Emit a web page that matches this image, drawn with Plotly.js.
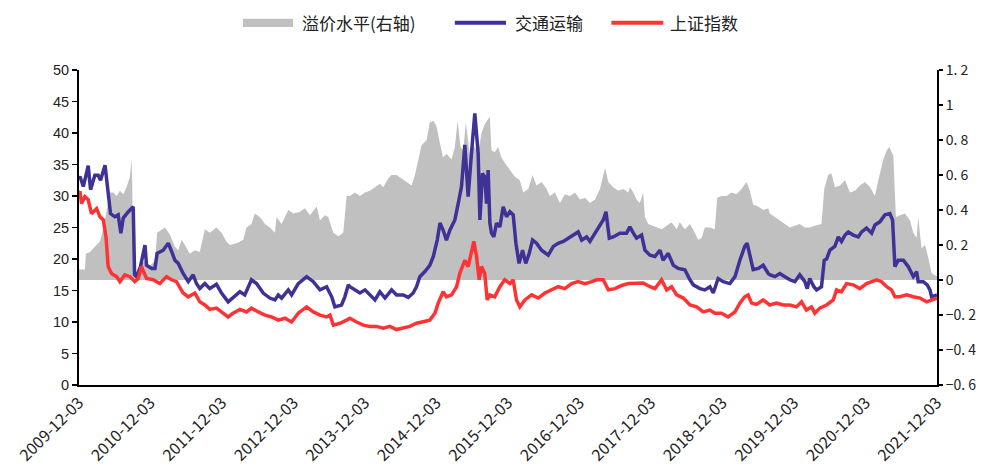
<!DOCTYPE html>
<html>
<head>
<meta charset="utf-8">
<script src="https://cdn.plot.ly/plotly-3.0.1.min.js"></script>
<style>html,body{margin:0;padding:0;background:#fff;}#chart{width:992px;height:474px;}</style>
</head>
<body>
<div id="chart"></div>
<script>
// Dates are given as decimal years (2009.921 = 2009-12-03)
const seriesNames = ['溢价水平(右轴)', '交通运输', '上证指数'];
const seriesColors = ['#C0C0C0', '#3F3296', '#FF3333'];

const premT = [2009.921,2010.005,2010.019,2010.075,2010.145,2010.215,2010.261,2010.308,2010.354,2010.401,2010.448,2010.494,2010.541,2010.588,2010.634,2010.657,2010.667,2010.681,2010.751,2010.774,2010.844,2010.914,2010.984,2011.016,2011.077,2011.124,2011.194,2011.264,2011.310,2011.357,2011.403,2011.473,2011.543,2011.613,2011.683,
 2011.753,2011.846,2011.916,2011.986,2012.033,2012.126,2012.219,2012.266,2012.336,2012.382,2012.452,2012.522,2012.592,2012.662,2012.685,2012.755,2012.849,2012.919,2013.012,2013.082,2013.152,2013.245,2013.291,2013.361,2013.408,2013.478,2013.548,2013.618,2013.665,
 2013.711,2013.781,2013.851,2013.921,2013.991,2014.061,2014.131,2014.177,2014.247,2014.294,2014.364,2014.434,2014.504,2014.574,2014.620,2014.667,2014.714,2014.784,2014.830,2014.877,2014.923,2014.970,2015.016,2015.063,2015.133,2015.180,2015.217,2015.259,2015.296,2015.333,2015.389,2015.445,2015.506,2015.552,2015.599,2015.646,
 2015.669,2015.692,2015.739,2015.786,2015.832,2015.879,2015.949,2016.019,2016.089,2016.135,2016.205,2016.266,2016.322,2016.392,2016.462,2016.508,2016.578,2016.648,2016.718,2016.788,2016.858,2016.928,2016.998,2017.068,2017.138,2017.207,2017.277,2017.324,2017.394,2017.464,2017.534,2017.604,
 2017.627,2017.674,2017.720,2017.767,2017.813,2017.837,2017.883,2017.953,2018.023,2018.070,2018.140,2018.210,2018.280,2018.326,2018.396,2018.466,2018.536,2018.583,2018.629,2018.676,2018.746,2018.816,2018.849,2018.909,2018.979,2019.049,2019.119,2019.189,2019.259,2019.305,2019.352,2019.422,2019.492,2019.562,
 2019.585,2019.655,2019.725,2019.795,2019.865,2019.935,2020.005,2020.075,2020.144,2020.214,2020.308,2020.345,2020.401,2020.447,2020.494,2020.564,2020.634,2020.704,2020.774,2020.844,2020.914,2020.984,2021.054,2021.100,2021.170,2021.217,2021.254,2021.310,2021.347,2021.403,2021.473,2021.543,2021.590,2021.636,2021.660,2021.706,2021.753,2021.800,2021.846,2021.921];
const premV = [0.06,0.06,0.15,0.16,0.19,0.22,0.29,0.39,0.50,0.50,0.48,0.51,0.49,0.53,0.59,0.69,0.55,0.04,0.04,0.08,0.11,0.08,0.11,0.27,0.29,0.30,0.26,0.19,0.17,0.23,0.20,0.15,0.17,0.16,0.29,
 0.27,0.30,0.27,0.22,0.20,0.21,0.23,0.30,0.32,0.38,0.36,0.32,0.30,0.27,0.36,0.32,0.40,0.38,0.39,0.41,0.37,0.42,0.34,0.37,0.36,0.27,0.25,0.27,0.48,
 0.48,0.50,0.48,0.50,0.51,0.53,0.55,0.53,0.58,0.60,0.60,0.58,0.56,0.54,0.60,0.69,0.77,0.80,0.90,0.91,0.88,0.78,0.70,0.72,0.69,0.76,0.91,0.76,0.74,0.90,0.72,0.77,0.72,0.84,0.89,0.92,
 0.93,0.74,0.73,0.76,0.70,0.67,0.63,0.59,0.57,0.50,0.52,0.60,0.54,0.56,0.52,0.48,0.50,0.44,0.49,0.48,0.50,0.46,0.47,0.44,0.46,0.52,0.64,0.56,0.53,0.51,0.52,0.50,
 0.53,0.50,0.46,0.44,0.50,0.36,0.32,0.31,0.30,0.29,0.31,0.33,0.29,0.33,0.29,0.32,0.27,0.23,0.24,0.30,0.30,0.29,0.47,0.48,0.48,0.50,0.49,0.52,0.56,0.51,0.43,0.42,0.40,0.41,
 0.38,0.36,0.34,0.32,0.30,0.31,0.32,0.30,0.30,0.31,0.32,0.52,0.60,0.61,0.53,0.54,0.57,0.50,0.51,0.54,0.56,0.53,0.48,0.57,0.69,0.74,0.76,0.71,0.36,0.37,0.38,0.34,0.27,0.24,0.36,0.18,0.20,0.13,0.04,0.02];

const transT = [2009.921,2009.935,2009.981,2010.051,2010.084,2010.145,2010.191,2010.224,2010.285,2010.331,2010.364,2010.424,2010.471,2010.508,2010.541,2010.611,2010.681,2010.699,2010.727,2010.783,2010.844,2010.867,2010.937,2010.984,2011.016,2011.100,2011.170,2011.217,2011.264,2011.310,2011.380,2011.450,2011.520,2011.567,2011.613,2011.683,
 2011.753,2011.846,2011.916,2012.009,2012.079,2012.173,2012.243,2012.336,2012.406,2012.499,2012.592,2012.662,2012.709,2012.755,2012.849,2012.895,2012.988,2013.105,2013.198,2013.291,2013.385,2013.455,2013.501,2013.594,2013.641,2013.688,
 2013.711,2013.781,2013.851,2013.921,2013.991,2014.061,2014.131,2014.201,2014.294,2014.364,2014.457,2014.527,2014.597,2014.643,2014.690,2014.760,2014.830,2014.877,2014.932,2014.970,2015.016,2015.063,2015.110,2015.180,2015.226,2015.273,2015.319,2015.366,2015.413,2015.459,2015.506,2015.529,2015.566,2015.599,2015.622,2015.646,
 2015.669,2015.692,2015.725,2015.762,2015.809,2015.855,2015.902,2015.949,2015.995,2016.033,2016.079,2016.126,2016.172,2016.219,2016.266,2016.322,2016.392,2016.485,2016.555,2016.625,2016.695,2016.765,2016.835,2016.904,2016.951,2017.021,2017.068,2017.138,2017.207,2017.254,2017.291,2017.338,2017.394,2017.487,2017.580,
 2017.627,2017.674,2017.720,2017.790,2017.837,2017.907,2017.977,2018.047,2018.093,2018.163,2018.233,2018.303,2018.396,2018.466,2018.513,2018.606,2018.676,2018.746,2018.793,2018.862,2018.932,2019.026,2019.096,2019.165,2019.235,2019.268,2019.305,2019.352,2019.422,2019.492,2019.562,
 2019.585,2019.655,2019.725,2019.795,2019.865,2019.935,2020.005,2020.075,2020.107,2020.144,2020.200,2020.238,2020.308,2020.345,2020.378,2020.424,2020.494,2020.541,2020.587,2020.634,2020.681,2020.751,2020.820,2020.867,2020.937,2021.007,2021.054,2021.123,2021.193,2021.263,2021.301,2021.333,2021.380,2021.450,2021.520,2021.590,2021.636,2021.660,2021.730,2021.786,2021.823,2021.846,2021.921];
const transV = [32.8,33.1,31.5,34.8,31.0,33.3,33.3,32.5,34.9,30.4,27.2,26.7,27.0,24.1,26.5,27.5,28.3,17.5,17.2,18.8,22.2,19.0,18.5,18.5,20.9,21.4,22.5,21.2,19.8,19.3,17.7,16.4,17.5,16.1,15.3,16.1,
 15.3,16.0,14.6,13.2,13.9,14.8,14.3,16.7,16.1,14.6,13.8,13.5,14.3,13.8,15.1,14.3,16.1,17.2,16.4,15.1,15.6,14.0,12.4,12.7,14.0,15.9,
 15.6,15.1,14.6,15.1,14.3,13.5,14.8,13.8,15.1,14.3,14.3,13.9,14.6,15.6,17.2,18.0,19.0,20.4,23.0,25.7,24.6,23.0,24.6,26.2,28.8,31.5,38.1,29.9,36.8,43.1,36.8,26.2,33.6,33.0,28.8,34.1,
 25.7,24.1,23.5,25.7,25.1,28.3,26.7,27.5,27.0,22.5,19.3,21.4,19.3,20.9,23.0,22.5,21.4,20.6,22.0,22.5,22.8,23.3,23.8,24.3,23.0,23.5,22.8,24.1,25.1,26.2,27.5,23.3,23.5,24.1,24.1,
 25.1,24.1,23.3,23.8,21.4,20.6,20.4,21.4,19.8,20.9,19.0,18.5,18.3,16.7,15.9,15.3,15.1,15.6,14.6,16.9,16.4,16.1,17.2,19.8,22.0,22.5,20.4,18.3,18.5,19.0,17.7,
 17.5,17.2,17.7,17.2,16.7,16.4,17.5,16.4,15.3,16.9,15.6,15.1,15.6,19.8,20.0,21.4,22.0,23.5,22.8,23.8,24.3,23.8,23.5,24.3,24.9,24.1,25.4,25.9,27.0,27.2,26.2,18.8,19.8,19.8,18.8,17.2,18.0,16.4,16.4,15.9,15.1,14.0,14.3];

const shT = [2009.921,2009.935,2009.958,2010.005,2010.051,2010.098,2010.168,2010.215,2010.261,2010.299,2010.331,2010.378,2010.448,2010.494,2010.564,2010.634,2010.704,2010.751,2010.797,2010.867,2010.961,2011.054,2011.147,2011.217,2011.287,2011.380,2011.450,2011.543,2011.613,2011.683,
 2011.753,2011.846,2011.939,2012.009,2012.079,2012.173,2012.266,2012.336,2012.429,2012.522,2012.615,2012.709,2012.802,2012.895,2012.988,2013.105,2013.198,2013.291,2013.385,2013.432,2013.478,2013.571,2013.665,
 2013.711,2013.804,2013.897,2013.991,2014.084,2014.177,2014.270,2014.364,2014.457,2014.550,2014.643,2014.737,2014.830,2014.900,2014.946,2015.016,2015.063,2015.133,2015.203,2015.249,2015.319,2015.366,2015.413,2015.445,2015.483,2015.520,2015.552,2015.599,2015.632,
 2015.669,2015.739,2015.809,2015.879,2015.949,2015.995,2016.042,2016.089,2016.159,2016.252,2016.345,2016.438,2016.532,2016.625,2016.718,2016.811,2016.904,2016.998,2017.091,2017.161,2017.254,2017.324,2017.417,2017.510,2017.604,
 2017.627,2017.720,2017.813,2017.907,2017.977,2018.070,2018.140,2018.210,2018.280,2018.373,2018.466,2018.559,2018.653,2018.746,2018.816,2018.909,2019.002,2019.096,2019.165,2019.235,2019.282,2019.329,2019.399,2019.492,
 2019.585,2019.678,2019.771,2019.865,2019.958,2020.028,2020.098,2020.168,2020.214,2020.284,2020.378,2020.471,2020.517,2020.587,2020.657,2020.751,2020.844,2020.937,2021.007,2021.077,2021.147,2021.217,2021.287,2021.333,2021.403,2021.496,2021.590,2021.683,2021.776,2021.846,2021.921];
const shV = [30.5,30.7,28.8,29.9,29.4,27.2,28.0,26.7,26.2,23.5,18.8,17.7,17.2,16.4,17.5,17.2,16.4,16.9,18.8,16.9,16.7,16.1,17.2,16.7,16.4,14.6,14.0,14.6,13.2,12.7,
 12.0,12.2,11.4,10.8,11.4,12.0,11.6,12.2,11.6,11.1,10.8,10.3,10.6,10.0,11.4,12.4,11.6,11.1,10.8,11.1,9.5,9.8,10.3,
 10.6,10.0,9.5,9.3,9.3,9.0,9.3,8.8,9.0,9.3,9.8,10.0,10.3,11.4,13.0,14.8,14.0,14.3,15.6,17.7,19.8,18.8,21.4,22.8,20.4,16.7,18.8,17.7,13.5,
 14.3,14.0,15.6,16.7,16.1,16.7,13.5,12.4,13.5,14.3,13.8,14.6,15.1,15.6,15.3,16.1,16.4,16.1,16.4,16.7,16.7,15.1,15.3,15.8,16.1,
 16.1,16.1,16.2,15.6,15.3,16.7,15.1,15.6,14.3,13.8,12.7,12.4,11.6,11.9,11.4,11.4,10.8,11.6,13.0,14.0,14.3,13.0,12.8,13.5,
 12.7,13.0,12.7,12.7,12.4,13.2,11.9,12.4,11.4,12.2,12.7,13.5,15.1,14.8,16.1,15.9,15.3,16.1,16.4,16.7,16.4,15.6,15.1,14.0,14.0,14.3,14.0,13.8,13.2,13.5,13.8];

const xTickLabels = ['2009-12-03','2010-12-03','2011-12-03','2012-12-03','2013-12-03','2014-12-03','2015-12-03','2016-12-03','2017-12-03','2018-12-03','2019-12-03','2020-12-03','2021-12-03'];
const rightTickVals = [1.2,1,0.8,0.6,0.4,0.2,0,-0.2,-0.4,-0.6];
const rightTickText = ['1. 2','1','0. 8','0. 6','0. 4','0. 2','0','−0. 2','−0. 4','−0. 6'];
const leftTickVals = [0,5,10,15,20,25,30,35,40,45,50];

function toDate(y){
  const yr = Math.floor(y + 1e-9);
  const a = Date.UTC(yr,0,1), b = Date.UTC(yr+1,0,1);
  return new Date(a + (y - yr) * (b - a)).toISOString().slice(0,10);
}

const cjk = '"Noto Sans CJK SC", "Noto Sans", sans-serif';
const traces = [
  {x: premT.map(toDate), y: premV, name: seriesNames[0], type: 'scatter', mode: 'lines',
   fill: 'tozeroy', fillcolor: seriesColors[0], line: {width: 0, color: seriesColors[0]}, yaxis: 'y', hoverinfo: 'skip'},
  {x: transT.map(toDate), y: transV, name: seriesNames[1], type: 'scatter', mode: 'lines',
   line: {width: 3.5, color: seriesColors[1]}, yaxis: 'y2'},
  {x: shT.map(toDate), y: shV, name: seriesNames[2], type: 'scatter', mode: 'lines',
   line: {width: 3.5, color: seriesColors[2]}, yaxis: 'y2'}
];

// Legend drawn above the plot (positions in paper units)
const legY = 1.150;
const legendShapes = [
  {type: 'rect', xref: 'paper', yref: 'paper', x0: 0.1911, x1: 0.2494, y0: 1.1365, y1: 1.1625,
   fillcolor: seriesColors[0], line: {width: 0}},
  {type: 'line', xref: 'paper', yref: 'paper', x0: 0.4380, x1: 0.4977, y0: legY, y1: legY,
   line: {color: seriesColors[1], width: 4}},
  {type: 'line', xref: 'paper', yref: 'paper', x0: 0.6205, x1: 0.6810, y0: legY, y1: legY,
   line: {color: seriesColors[2], width: 4}}
];
const legendTextX = [0.2576, 0.5055, 0.6868];
const legendAnn = seriesNames.map((n, i) => ({
  text: n, xref: 'paper', yref: 'paper', x: legendTextX[i], y: legY, xanchor: 'left', yanchor: 'middle',
  showarrow: false, font: {family: cjk, size: 17, color: '#222'}
}));

const layout = {
  width: 992, height: 474,
  margin: {l: 79, r: 55, t: 70, b: 89, pad: 0},
  paper_bgcolor: '#fff', plot_bgcolor: '#fff',
  showlegend: false,
  shapes: legendShapes,
  annotations: legendAnn,
  xaxis: {type: 'date', range: ['2009-12-03', '2021-12-03'],
          tickvals: xTickLabels, ticktext: xTickLabels, tickangle: -45,
          tickfont: {family: cjk, size: 16, color: '#222'},
          showgrid: false, zeroline: false, showline: true, linecolor: '#000', linewidth: 2,
          ticks: '', fixedrange: true},
  yaxis: {range: [-0.6, 1.2], side: 'right', tickvals: rightTickVals, ticktext: rightTickText,
          tickfont: {family: cjk, size: 14, color: '#222'},
          showgrid: false, zeroline: false, showline: true, linecolor: '#000', linewidth: 2,
          ticks: 'outside', ticklen: 4, tickcolor: '#000', tickwidth: 1.5},
  yaxis2: {range: [0, 50], side: 'left', overlaying: 'y', tickvals: leftTickVals,
          tickfont: {family: '"Liberation Sans", Arial, sans-serif', size: 14.5, color: '#222'},
          showgrid: false, zeroline: false, showline: true, linecolor: '#000', linewidth: 2,
          ticks: 'outside', ticklen: 5, tickcolor: '#000', tickwidth: 1.5}
};

Plotly.newPlot('chart', traces, layout, {staticPlot: true, displayModeBar: false});
</script>
</body>
</html>
